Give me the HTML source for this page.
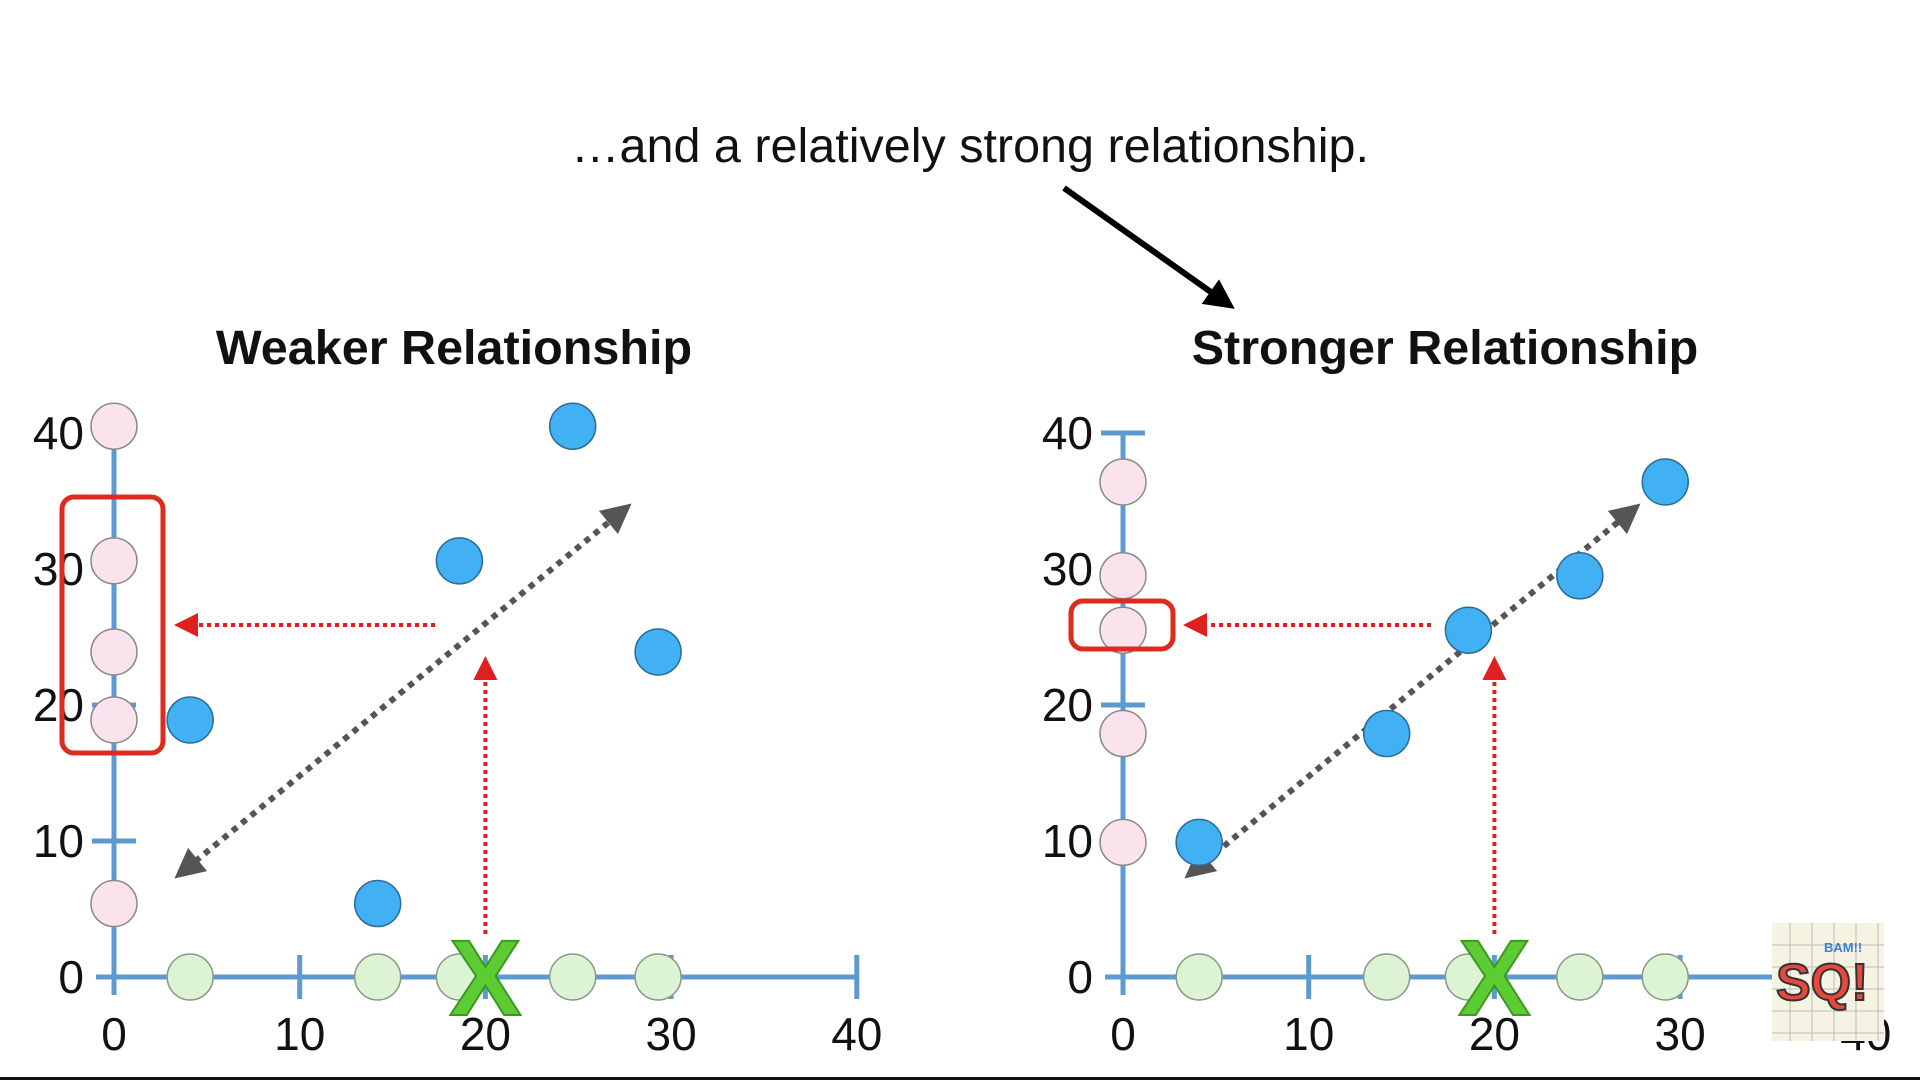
<!DOCTYPE html>
<html><head><meta charset="utf-8"><style>
html,body{margin:0;padding:0;background:#fff;width:1920px;height:1080px;overflow:hidden}
svg{display:block;font-family:"Liberation Sans",Arial,sans-serif}
</style></head><body>
<svg id="s" width="1920" height="1080" viewBox="0 0 1920 1080" xmlns="http://www.w3.org/2000/svg">
<defs>
<marker id="ag" markerWidth="5" markerHeight="5" refX="2.5" refY="2.5" orient="auto-start-reverse" markerUnits="strokeWidth"><path d="M0,0L5,2.5L0,5z" fill="#555"/></marker>
<marker id="ar" markerWidth="6" markerHeight="6" refX="3" refY="3" orient="auto-start-reverse" markerUnits="strokeWidth"><path d="M0,0L6,3L0,6z" fill="#e02020"/></marker>
<marker id="ab" markerWidth="5" markerHeight="5" refX="3" refY="2.5" orient="auto" markerUnits="strokeWidth"><path d="M0,0L5,2.5L0,5z" fill="#000"/></marker>
</defs>
<text x="970" y="162" font-size="48.5" text-anchor="middle" fill="#111">…and a relatively strong relationship.</text>
<line x1="1064" y1="188" x2="1225" y2="302" stroke="#000" stroke-width="6" marker-end="url(#ab)"/>
<text x="454" y="364" font-size="48.5" font-weight="bold" text-anchor="middle" fill="#111">Weaker Relationship</text>
<text x="1445" y="364" font-size="48.5" font-weight="bold" text-anchor="middle" fill="#111">Stronger Relationship</text>
<g id="left"></g>
<g id="right"></g>
<g>
<rect x="1772" y="923" width="112" height="118" fill="#f6f3e2"/>
<path d="M1772 945H1884M1772 967H1884M1772 989H1884M1772 1011H1884M1772 1033H1884M1790 923V1041M1812 923V1041M1834 923V1041M1856 923V1041M1878 923V1041" stroke="#bbb" stroke-width="1"/>
<text x="1776" y="1000" font-size="52" font-weight="bold" fill="#e8483e" stroke="#333" stroke-width="2">SQ!</text>
<text x="1824" y="952" font-size="13" font-weight="bold" fill="#3a7fd6">BAM!!</text>
</g>
<rect x="0" y="1077" width="1920" height="3" fill="#111"/>
</svg>
<script>
const ticks = [0, 10, 20, 30, 40];
const weakX = [4.1, 14.2, 18.6, 24.7, 29.3];
const weakY = [18.9, 5.4, 30.6, 40.5, 23.9];
const strongX = [4.1, 14.2, 18.6, 24.6, 29.2];
const strongY = [9.9, 17.9, 25.5, 29.5, 36.4];
const NS = 'http://www.w3.org/2000/svg';
function mk(parent, tag, attrs) {
  const e = document.createElementNS(NS, tag);
  for (const k in attrs) e.setAttribute(k, attrs[k]);
  parent.appendChild(e);
  return e;
}
function chart(gid, x0px, xs, ys, opt) {
  const g = document.getElementById(gid);
  const sx = v => x0px + v * 18.57;
  const sy = v => 977 - v * 13.6;
  const ax = '#5b9bd2';
  let e;
  e = mk(g, 'line', {x1: sx(0) - 18, y1: sy(0), x2: sx(40), y2: sy(0), stroke: ax, 'stroke-width': 5});
  
  
  e = mk(g, 'line', {x1: sx(0), y1: sy(0) + 18, x2: sx(0), y2: sy(40), stroke: ax, 'stroke-width': 5});
  
  
  ticks.forEach(t => {
    if (t > 0) {
      e = mk(g, 'line', {x1: sx(t), y1: sy(0) - 22, x2: sx(t), y2: sy(0) + 22, stroke: ax, 'stroke-width': 5});
      
      
      e = mk(g, 'line', {x1: sx(0) - 22, y1: sy(t), x2: sx(0) + 22, y2: sy(t), stroke: ax, 'stroke-width': 5});
      
      
    }
    e = mk(g, 'text', {x: sx(t), y: 1050, 'font-size': 46, 'text-anchor': 'middle', fill: '#111'});
    e.textContent = t;
    
    
    e = mk(g, 'text', {x: sx(0) - 30, y: sy(t) + 16, 'font-size': 46, 'text-anchor': 'end', fill: '#111'});
    e.textContent = t;
    
    
  });
  e = mk(g, 'line', {x1: opt.g[0], y1: opt.g[1], x2: opt.g[2], y2: opt.g[3], stroke: '#555', 'stroke-width': 6, 'stroke-dasharray': '6 6', 'marker-start': 'url(#ag)', 'marker-end': 'url(#ag)'});
  
  
  xs.forEach((v, i) => {
    e = mk(g, 'ellipse', {cx: sx(v), cy: sy(0), rx: 23, ry: 23, fill: '#dcf3d4', stroke: '#8a9a88', 'stroke-width': 1.5});
    
    
  });
  ys.forEach((v, i) => {
    e = mk(g, 'ellipse', {cx: sx(0), cy: sy(v), rx: 23, ry: 23, fill: '#fbe3ee', stroke: '#8a8a8a', 'stroke-width': 1.5});
    
    
  });
  xs.forEach((v, i) => {
    e = mk(g, 'ellipse', {cx: sx(v), cy: sy(ys[i]), rx: 23, ry: 23, fill: '#41b1f4', stroke: '#2c6c96', 'stroke-width': 1.5});
    
    
  });
  e = mk(g, 'rect', {x: opt.box[0], y: opt.box[1], width: opt.box[2], height: opt.box[3], rx: 12, fill: 'none', stroke: '#dd2b1e', 'stroke-width': 5});
  
  
  e = mk(g, 'line', {x1: sx(20), y1: 934, x2: sx(20), y2: 668, stroke: '#e02020', 'stroke-width': 4, 'stroke-dasharray': '4 4', 'marker-end': 'url(#ar)'});
  
  
  e = mk(g, 'line', {x1: opt.h[0], y1: 625, x2: opt.h[1], y2: 625, stroke: '#e02020', 'stroke-width': 4, 'stroke-dasharray': '4 4', 'marker-end': 'url(#ar)'});
  
  
  e = mk(g, 'text', {x: sx(20), y: sy(0) + 38, 'font-size': 108, 'font-weight': 'bold', 'text-anchor': 'middle', fill: '#5ccc32', stroke: '#3a9a1e', 'stroke-width': 2});
  e.textContent = 'X';
  
  
}
chart('left', 114, weakX, weakY, {g: [186, 869, 620, 513], box: [62, 497, 101, 256], h: [435, 186]});
chart('right', 1123, strongX, strongY, {g: [1196, 869, 1629, 513], box: [1071, 601, 102, 48], h: [1431, 1195]});
</script>
</body></html>
